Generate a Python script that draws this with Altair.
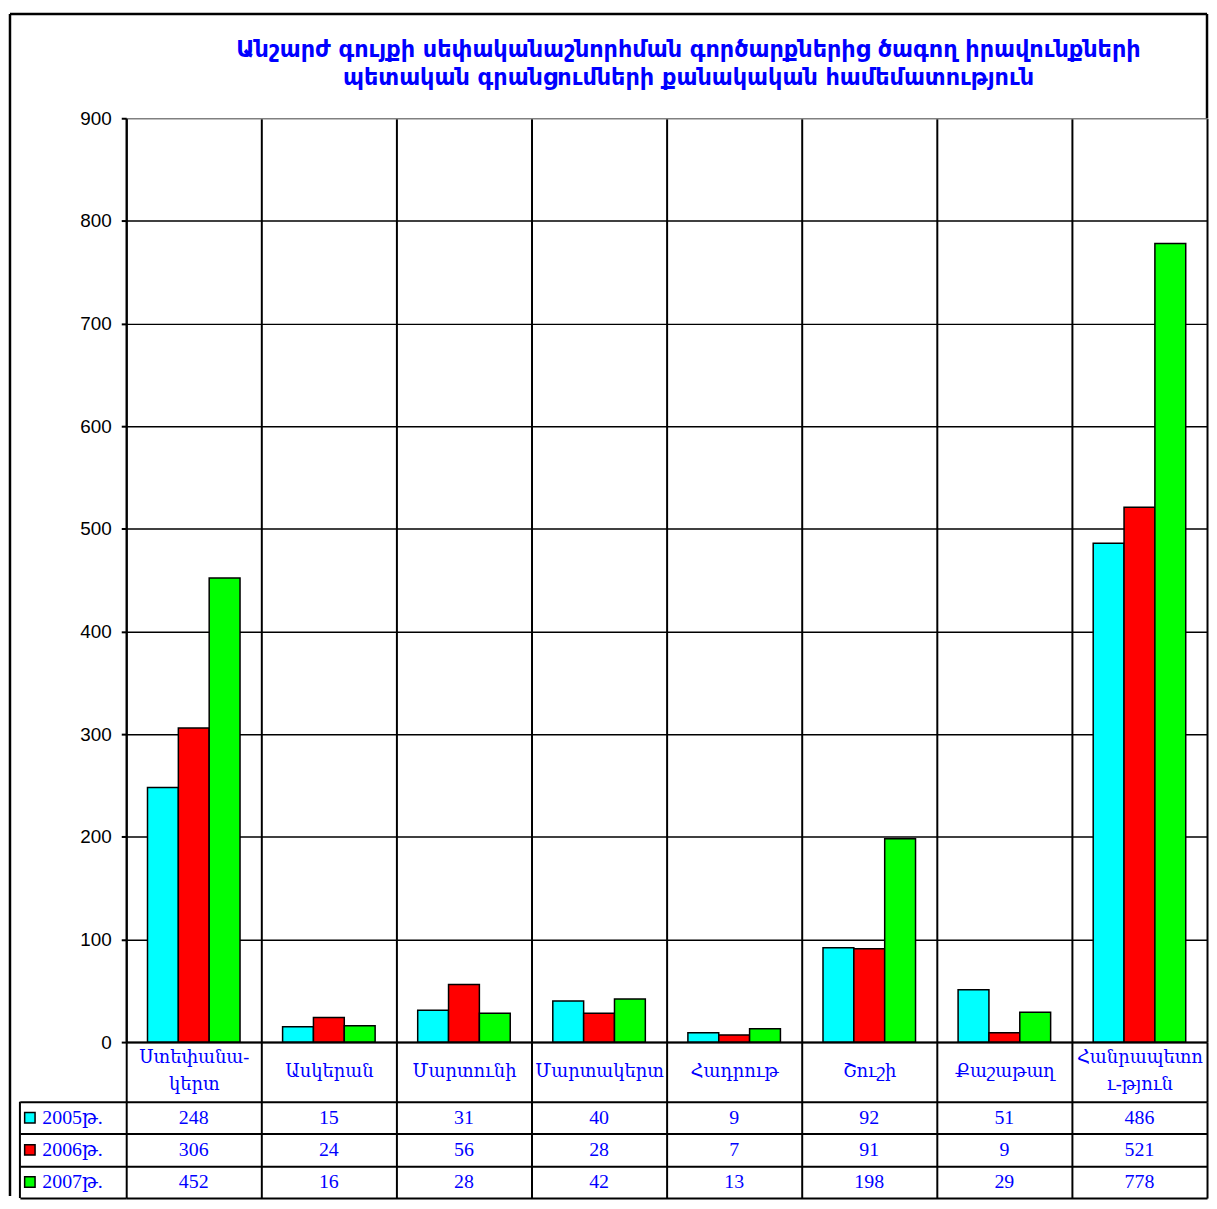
import altair as alt
import pandas as pd

title_lines = [
    "Անշարժ գույքի սեփականաշնորհման գործարքներից ծագող իրավունքների",
    "պետական գրանցումների քանակական համեմատություն",
]
categories = ["Ստեփանակերտ", "Ասկերան", "Մարտունի", "Մարտակերտ",
              "Հադրութ", "Շուշի", "Քաշաթաղ", "Հանրապետություն"]
header_labels = ["Ստեփանա-|կերտ", "Ասկերան", "Մարտունի", "Մարտակերտ",
                 "Հադրութ", "Շուշի", "Քաշաթաղ", "Հանրապետո|ւ-թյուն"]
years = ["2005թ.", "2006թ.", "2007թ."]
v2005 = [248, 15, 31, 40, 9, 92, 51, 486]
v2006 = [306, 24, 56, 28, 7, 91, 9, 521]
v2007 = [452, 16, 28, 42, 13, 198, 29, 778]
colors = ["#00ffff", "#ff0000", "#00ff00"]
y_ticks = list(range(0, 901, 100))

rows = []
for yr, vals in zip(years, [v2005, v2006, v2007]):
    for c, v in zip(categories, vals):
        rows.append({"category": c, "year": yr, "value": v})
df = pd.DataFrame(rows)
one = pd.DataFrame({"k": [0]})

BLUE = "#0000ff"
SERIF = "Liberation Serif, DejaVu Serif"
W, H = 1088, 930
TABLE_H = 97
HEADER_H = 60

def x_scale():
    return alt.Scale(type="band", domain=categories, paddingInner=0, paddingOuter=0)

cat_arr = "[" + ",".join(f"'{c}'" for c in categories) + "]"
hdr_arr = "[" + ",".join(f"'{h}'" for h in header_labels) + "]"
label_expr = (f"isValid(datum.value) && indexof({cat_arr}, datum.value) >= 0 ? "
              f"split({hdr_arr}[indexof({cat_arr}, datum.value)], '|') : ''")
two_line = [c for c, h in zip(categories, header_labels) if "|" in h]
two_line_test = " || ".join(f"datum.value == '{c}'" for c in two_line)

color_enc = alt.Color("year:N", scale=alt.Scale(domain=years, range=colors), legend=None)

bars = alt.Chart(df).mark_bar(stroke="black", strokeWidth=1.5).encode(
    x=alt.X("category:N", sort=categories, scale=x_scale(),
            axis=alt.Axis(title=None, labelExpr=label_expr, labelColor=BLUE, labelFont=SERIF,
                          labelFontSize=18, labelLineHeight=27, labelBaseline="middle",
                          labelPadding={"condition": {"test": two_line_test, "value": -44},
                                        "value": -30},
                          labelAngle=0, tickBand="extent", tickSize=HEADER_H,
                          tickColor="black", tickWidth=2, domainColor="black", domainWidth=2,
                          grid=True, gridColor="black", gridWidth=2, labelOverlap=False)),
    xOffset=alt.XOffset("year:N", sort=years,
                        scale=alt.Scale(paddingInner=0, paddingOuter=0.69)),
    y=alt.Y("value:Q", scale=alt.Scale(domain=[0, 900], nice=False),
            axis=alt.Axis(title=None, values=y_ticks, labelFont="Liberation Sans", labelFontSize=19,
                          labelColor="black", tickSize=5, tickColor="black", tickWidth=2,
                          domainColor="black", domainWidth=2,
                          gridColor={"condition": {"test": "datum.value == 900", "value": "#808080"},
                                     "value": "black"},
                          gridWidth=1.5, labelPadding=10)),
    color=color_enc,
)

title_mark = alt.Chart(one).mark_text(
    font="DejaVu Sans", fontWeight="bold", fontSize=22.5, color=BLUE, lineHeight=29,
    align="center", baseline="middle").encode(
    x=alt.value(566), y=alt.value(-69), text=alt.value(title_lines))

frame_left = alt.Chart(one).mark_rule(color="black", strokeWidth=2.5).encode(
    x=alt.value(-117), y=alt.value(-105), y2=alt.value(H + HEADER_H + TABLE_H - 2))
frame_top = alt.Chart(one).mark_rule(color="black", strokeWidth=2.5).encode(
    x=alt.value(-117), x2=alt.value(W), y=alt.value(-105))
frame_right = alt.Chart(one).mark_rule(color="black", strokeWidth=2.5).encode(
    x=alt.value(W), y=alt.value(-105), y2=alt.value(0))

top = alt.layer(bars, title_mark, frame_left, frame_top, frame_right).properties(
    width=W, height=H)

y_tab = alt.Y("year:N", sort=years, scale=alt.Scale(type="band", paddingInner=0, paddingOuter=0),
              axis=alt.Axis(title=None, grid=True, tickBand="extent", gridColor="black", gridWidth=2,
                            ticks=True, tickSize=107, tickColor="black", tickWidth=2, domain=False,
                            labelAlign="left", labelPadding=-22, labelFont=SERIF, labelFontSize=20,
                            labelColor=BLUE, labelBaseline="middle"))

table_text = alt.Chart(df).mark_text(font=SERIF, fontSize=20, color=BLUE).encode(
    x=alt.X("category:N", sort=categories, scale=x_scale(),
            axis=alt.Axis(orient="top", title=None, labels=False, ticks=False, domain=False,
                          grid=True, tickBand="extent", gridColor="black", gridWidth=2)),
    y=y_tab,
    text="value:Q",
)

squares = alt.Chart(pd.DataFrame({"year": years})).mark_square(
    size=110, stroke="black", strokeWidth=1.5, opacity=1).encode(
    x=alt.value(-97), y=y_tab, color=color_enc)

left_border = alt.Chart(one).mark_rule(color="black", strokeWidth=2).encode(
    x=alt.value(-107), y=alt.value(0), y2=alt.value(TABLE_H))

bottom = alt.layer(table_text, squares, left_border).properties(width=W, height=TABLE_H)

chart = alt.vconcat(top, bottom, spacing=HEADER_H, bounds="flush").properties(
    padding=0).configure_view(stroke="transparent")

chart.save("out.html", embed_options={"renderer": "svg", "actions": False})
